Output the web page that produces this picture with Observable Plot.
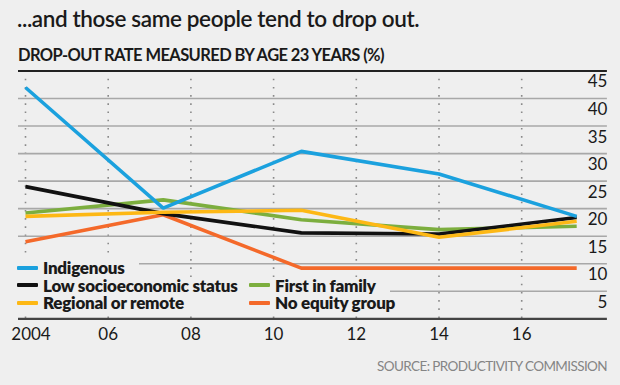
<!DOCTYPE html>
<html><head><meta charset="utf-8">
<script src="https://cdn.jsdelivr.net/npm/d3@7"></script>
<script src="https://cdn.jsdelivr.net/npm/@observablehq/plot@0.6"></script>
<style>
body{margin:0;background:#efefef;}
#wrap{position:relative;width:620px;height:385px;background:#efefef;font-family:Lato,"Open Sans",sans-serif;overflow:hidden;color:#1a1a1a}
#title{position:absolute;left:17px;top:5px;font-size:22.5px;line-height:28px;font-weight:600;white-space:nowrap;letter-spacing:-0.38px}
#subtitle{position:absolute;left:18px;top:45px;font-size:16.5px;line-height:20px;font-weight:700;white-space:nowrap;letter-spacing:-0.6px}
#chart{position:absolute;left:0;top:64px}
#legend{position:absolute;left:17px;top:259px;display:grid;grid-template-columns:232px auto;grid-auto-rows:17.6px;}
.item{display:inline-flex;align-items:center;background:#efefef;padding-right:14px;font-weight:800;font-size:17px;line-height:17.6px;height:17.6px;white-space:nowrap;justify-self:start;letter-spacing:-0.25px;overflow:visible}
.item .lab{display:inline-block;height:17.6px;line-height:17.6px;overflow:visible}
.sw{display:inline-block;width:21px;height:4px;margin-right:5px;border-radius:1px}
#source{position:absolute;right:13px;top:357px;font-size:13.5px;line-height:18px;color:#858585;white-space:nowrap;letter-spacing:-0.6px}
</style></head>
<body>
<div id="wrap">
  <div id="title">...and those same people tend to drop out.</div>
  <div id="subtitle">DROP-OUT RATE MEASURED BY AGE 23 YEARS (%)</div>
  <div id="chart"></div>
  <div id="legend"></div>
  <div id="source">SOURCE: PRODUCTIVITY COMMISSION</div>
</div>
<script>
// ---- data ----
const years = [2004, 2007.33, 2010.67, 2014, 2017.33];
const indigenous  = [42.0, 20.1, 30.4, 26.3, 18.6];
const lowSES      = [24.0, 19.1, 15.6, 15.4, 18.4];
const firstFamily = [19.2, 21.6, 18.0, 16.2, 16.8];
const regional    = [18.6, 19.35, 19.7, 14.8, 17.7];
const noEquity    = [14.0, 18.9, 9.2, 9.2, 9.2];

const seriesNames  = ["Indigenous", "Low socioeconomic status", "First in family", "Regional or remote", "No equity group"];
const seriesColors = ["#1ba1de", "#111111", "#7cae3e", "#fdb815", "#f4692a"];
const seriesValues = [indigenous, lowSES, firstFamily, regional, noEquity];

const xTicks = [2004, 2006, 2008, 2010, 2012, 2014, 2016];
const xTickLabels = ["2004", "06", "08", "10", "12", "14", "16"];
const yTicks = [5, 10, 15, 20, 25, 30, 35, 40, 45];
const yGrid = [5, 10, 15, 20, 25, 30, 35, 40];

// draw order (bottom to top)
const drawOrder = ["No equity group", "First in family", "Low socioeconomic status", "Regional or remote", "Indigenous"];
const data = drawOrder.flatMap(name => {
  const vals = seriesValues[seriesNames.indexOf(name)];
  return years.map((yr, i) => ({year: yr, value: vals[i], name}));
});

const xLab = xTicks.map((t, i) => ({t, label: xTickLabels[i]}));

const chart = Plot.plot({
  width: 620, height: 290,
  marginLeft: 25, marginRight: 16.1, marginTop: 6.5, marginBottom: 35.7,
  x: {domain: [2004, 2018], axis: null},
  y: {domain: [0, 45], axis: null},
  color: {domain: seriesNames, range: seriesColors},
  style: {background: "transparent", fontFamily: "Lato, 'Open Sans', sans-serif", fontSize: "17px", color: "#1a1a1a", overflow: "visible"},
  marks: [
    Plot.ruleX(xTicks, {x: d => d, stroke: "#8a8a8a", strokeWidth: 1.6, strokeDasharray: "1.6,6.6"}),
    Plot.ruleY(yGrid, {y: d => d, stroke: "#a8a8a8", strokeWidth: 1.6, insetLeft: -7, insetRight: -3}),
    Plot.ruleY([45], {y: d => d, stroke: "#222", strokeWidth: 2, insetLeft: -7, insetRight: -3}),
    Plot.ruleY([0], {y: d => d, stroke: "#444", strokeWidth: 2.2, insetLeft: -7, insetRight: -3}),
    Plot.line(data, {x: "year", y: "value", z: "name", stroke: "name", strokeWidth: 3.6, strokeLinejoin: "miter", strokeLinecap: "butt"}),
    Plot.text(yTicks, {y: d => d, text: d => String(d), frameAnchor: "right", textAnchor: "end", lineAnchor: "middle", dx: 3, dy: 11, fill: "#1a1a1a"}),
    Plot.text(xLab.slice(0, 1), {x: "t", text: "label", frameAnchor: "bottom", lineAnchor: "middle", dy: 16, dx: 5.5, fill: "#1a1a1a"}),
    Plot.text(xLab.slice(1), {x: "t", text: "label", frameAnchor: "bottom", lineAnchor: "middle", dy: 16, fill: "#1a1a1a"})
  ]
});
document.getElementById("chart").appendChild(chart);

// legend (overlaid inside plot area)
const legendLayout = [
  ["Indigenous", null],
  ["Low socioeconomic status", "First in family"],
  ["Regional or remote", "No equity group"]
];
const leg = document.getElementById("legend");
legendLayout.forEach(row => row.forEach(name => {
  const cell = document.createElement("div");
  if (name) {
    cell.className = "item";
    const sw = document.createElement("span");
    sw.className = "sw";
    sw.style.background = seriesColors[seriesNames.indexOf(name)];
    cell.appendChild(sw);
    const lab = document.createElement("span");
    lab.className = "lab";
    lab.textContent = name;
    cell.appendChild(lab);
  }
  leg.appendChild(cell);
}));
</script>
</body></html>
